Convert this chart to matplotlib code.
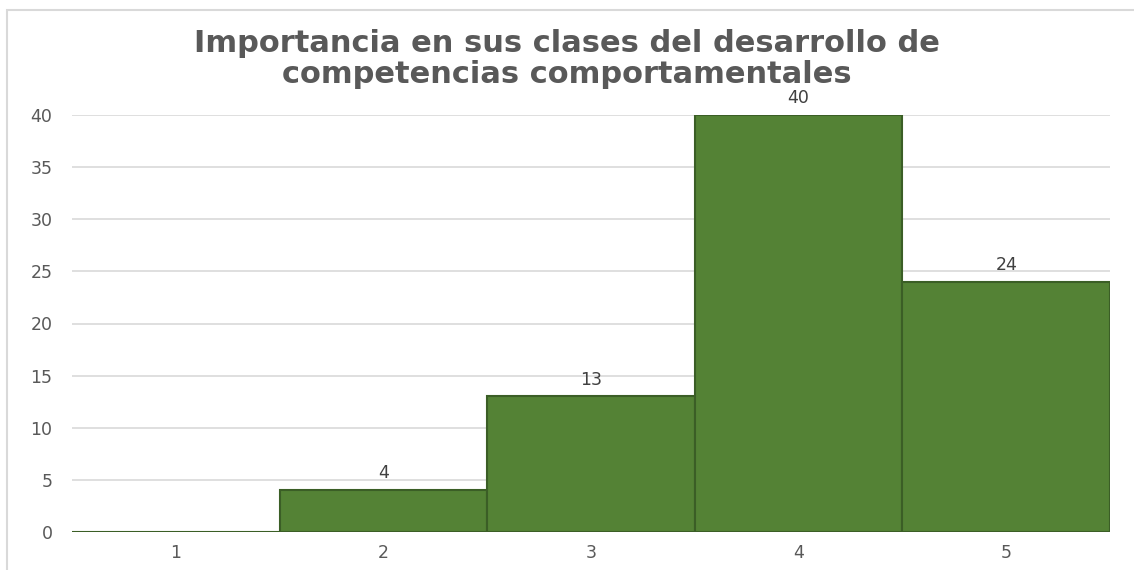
import matplotlib.pyplot as plt
from matplotlib.patches import Rectangle

# data
categories = ["1", "2", "3", "4", "5"]
counts = [0, 4, 13, 40, 24]
title = "Importancia en sus clases del desarrollo de\ncompetencias comportamentales"

plt.rcParams['font.family'] = ['DejaVu Sans']

W, H = 1134, 570
fig = plt.figure(figsize=(W / 100, H / 100), dpi=100)

# chart border (light gray frame, cut off at right/bottom)
fig.patches.append(Rectangle((7 / W, -0.1), 1.2, 1 - 10 / H + 0.1,
                             transform=fig.transFigure, fill=False,
                             edgecolor='#d9d9d9', linewidth=1.5))

ax = fig.add_axes([72 / W, 1 - 532 / H, (1110 - 72) / W, (532 - 115) / H])

x = list(range(len(categories)))
bars = ax.bar(x, counts, width=1.0, color='#548235', edgecolor='#3b5e26',
              linewidth=1.5, zorder=3)

for xi, v in zip(x, counts):
    if v > 0:
        ax.text(xi, v + 0.75, str(v), ha='center', va='bottom',
                fontsize=12.5, color='#404040')

ax.set_xlim(-0.5, len(categories) - 0.5)
ax.set_ylim(0, 40)
ax.set_yticks(range(0, 41, 5))
ax.set_xticks(x)
ax.set_xticklabels(categories)
ax.tick_params(axis='both', length=0, labelsize=12.5, labelcolor='#595959')
ax.tick_params(axis='y', pad=14)
ax.tick_params(axis='x', pad=9)
ax.yaxis.grid(True, color='#d9d9d9', linewidth=1.2, zorder=0)
for s in ax.spines.values():
    s.set_visible(False)

fig.text(0.5, 1 - 59 / H, title, ha='center', va='center', fontsize=22,
         fontweight='bold', color='#595959', linespacing=1.12)

fig.savefig('out.png', dpi=100)
